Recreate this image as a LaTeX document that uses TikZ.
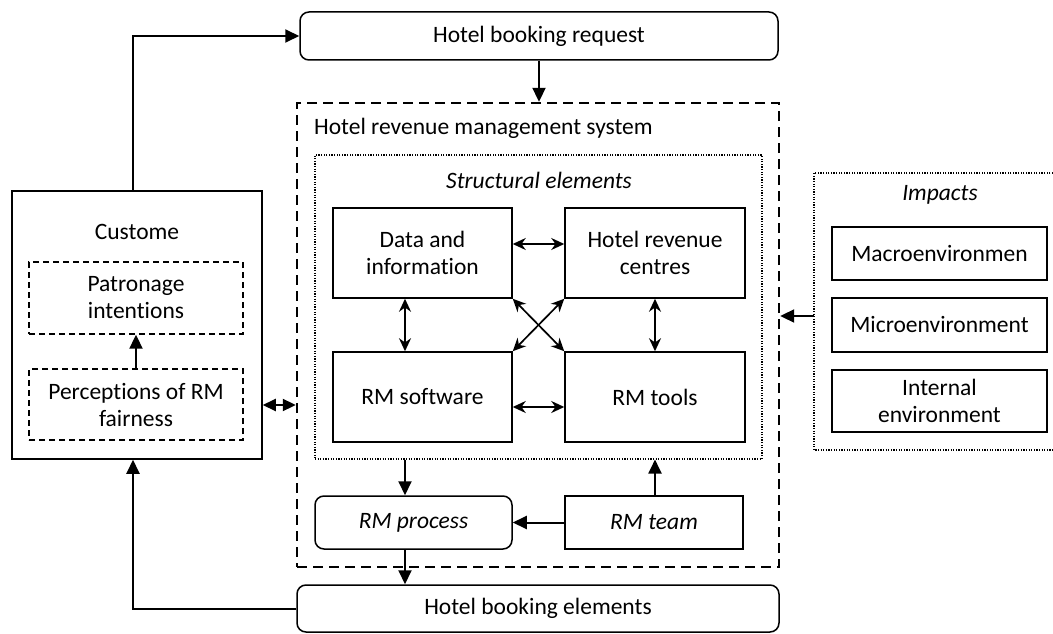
\documentclass[tikz,border=0pt]{standalone}
\usepackage{fontspec}
\setmainfont{Carlito}[Ligatures=NoCommon]
\usetikzlibrary{arrows.meta}
\begin{document}
\begin{tikzpicture}[x=1pt,y=-1pt,
 every node/.style={font=\fontsize{23.5}{27}\selectfont, inner sep=0pt, align=center},
 box/.style={draw, line width=1.5pt, rectangle},
 rbox/.style={draw, line width=1.5pt, rounded corners=9pt},
 bigdash/.style={draw, line width=2.4pt, dash pattern=on 10pt off 6pt},
 smalldash/.style={draw, line width=1.4pt, dash pattern=on 6pt off 4pt},
 dotbox/.style={draw, line width=1.1pt, dash pattern=on 1.2pt off 1.4pt},
 arr/.style={-{Triangle[length=14pt,width=13pt]}, line width=2pt},
 darr/.style={{Stealth[length=13pt,width=12pt]}-{Stealth[length=13pt,width=12pt]}, line width=1.7pt},
 bigdarr/.style={{Triangle[length=13pt,width=12pt]}-{Triangle[length=13pt,width=12pt]}, line width=2pt},
]
\useasboundingbox (0,0) rectangle (1053,634);

% top and bottom
\node[rbox, minimum width=478pt, minimum height=48pt] (req) at (539,36) {Hotel booking request};
\node[rbox, minimum width=482pt, minimum height=47pt] (elem) at (538,608.5) {Hotel booking elements};

% system box
\node[bigdash, minimum width=482pt, minimum height=464pt] (sys) at (538,335) {};
\node[anchor=west] (systitle) at (314,128) {Hotel revenue management system};

% structural elements
\node[dotbox, minimum width=447pt, minimum height=304pt] (struct) at (538.5,307) {};
\node[font=\fontsize{23.5}{27}\selectfont\itshape] (structtitle) at (539,180) {Structural elements};

\node[box, minimum width=179pt, minimum height=90pt] (data) at (422.5,253) {Data and\\information};
\node[box, minimum width=180pt, minimum height=90pt] (hrc) at (655,253) {Hotel revenue\\centres};
\node[box, minimum width=179pt, minimum height=90pt] (rmsw) at (422.5,397) {RM software};
\node[box, minimum width=180pt, minimum height=90pt] (rmtools) at (655,397) {RM tools};

\coordinate (cl) at (405,244);
\coordinate (cr) at (655,407);

\draw[darr] (data.east |- cl) -- (hrc.west |- cl);
\draw[darr] (rmsw.east |- cr) -- (rmtools.west |- cr);
\draw[darr] (data.south -| cl) -- (rmsw.north -| cl);
\draw[darr] (hrc.south -| cr) -- (rmtools.north -| cr);
\draw[darr] (data.south east) -- (rmtools.north west);
\draw[darr] (hrc.south west) -- (rmsw.north east);

% process and team
\node[rbox, minimum width=197pt, minimum height=53pt, font=\fontsize{23.5}{27}\selectfont\itshape] (proc) at (413.5,522.5) {RM process};
\node[box, minimum width=178pt, minimum height=53pt, font=\fontsize{23.5}{27}\selectfont\itshape] (team) at (654,522.5) {RM team};

\draw[arr] (struct.south -| cl) -- (proc.north -| cl);
\draw[arr] (team.west) -- (proc.east);
\draw[arr] (team.north -| cr) -- (struct.south -| cr);
\draw[arr] (proc.south -| cl) -- (elem.north -| cl);
\draw[arr] (req.south) -- (sys.north -| req.south);

% customer
\node[box, minimum width=250pt, minimum height=268pt] (cust) at (137,325) {};
\node (custtitle) at (137,232) {Custome};
\node[smalldash, minimum width=214pt, minimum height=72pt] (patr) at (136,298) {Patronage\\intentions};
\node[smalldash, minimum width=214pt, minimum height=71pt] (perc) at (136,404.5) {Perceptions of RM\\fairness};
\draw[arr] (perc.north) -- (patr.south);

\coordinate (cx) at (133,0);
\coordinate (cy) at (0,405);
\draw[bigdarr] (cust.east |- cy) -- (sys.west |- cy);
\draw[arr] (cust.north -| cx) -- (cx |- req.west) -- (req.west);
\draw[arr] (elem.west) -- (cx |- elem.west) -- (cust.south -| cx);

% impacts
\draw[dotbox] (1053,173) -- (814,173) -- (814,450) -- (1053,450);
\coordinate (imp) at (814,316);
\node[font=\fontsize{23.5}{27}\selectfont\itshape] (imptitle) at (940,195) {Impacts};
\node[box, minimum width=215pt, minimum height=53pt] (macro) at (939.5,253.5) {Macroenvironmen};
\node[box, minimum width=215pt, minimum height=54pt] (micro) at (939.5,325) {Microenvironment};
\node[box, minimum width=215pt, minimum height=62pt] (intern) at (939.5,401) {Internal\\environment};
\draw[arr] (imp) -- (sys.east |- imp);
\end{tikzpicture}
\end{document}
